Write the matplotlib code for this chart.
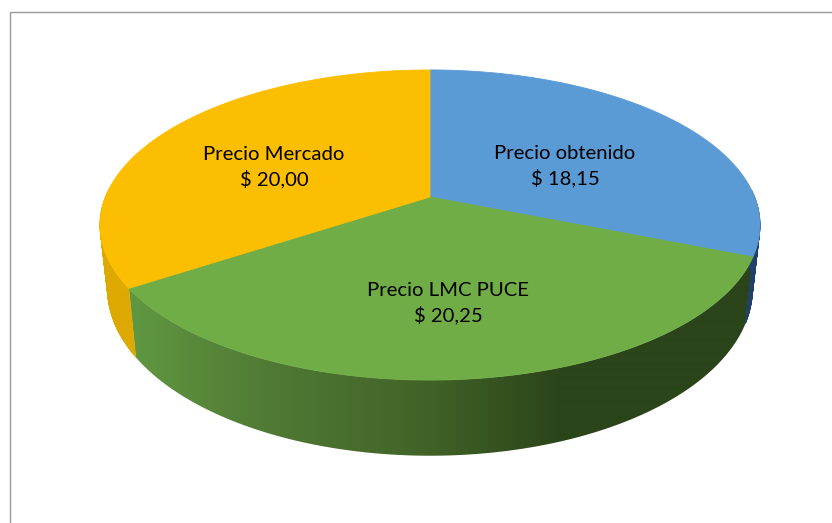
import numpy as np
import matplotlib
matplotlib.use("Agg")
import matplotlib.pyplot as plt
from matplotlib.collections import PolyCollection
from matplotlib.patches import Polygon, Rectangle

categories = ["Precio obtenido", "Precio LMC PUCE", "Precio Mercado"]
values = [18.15, 20.25, 20.00]

top_colors = ["#5B9BD5", "#70AD47", "#FCBE00"]
side_colors = ["#1F4069", None, "#DDA900"]
label_pos = [(565, 166), (448, 303), (274, 167)]

# 绿色侧面的渐变 (像素 x -> RGB)
grad_x = [130, 200, 280, 420, 560, 760]
grad_r = [96, 88, 78, 66, 43, 43]
grad_g = [152, 136, 120, 100, 68, 68]
grad_b = [66, 58, 52, 40, 26, 26]

# 视角参数 (像素)
CX, CY = 430, 197
A, B, K = 324.6, 150, 0.1806
DEPTH = 62
BOTTOM_SCALE = 0.977

plt.rcParams['font.family'] = ['Lato', 'DejaVu Sans']


def rim(theta, bottom=False):
    # theta: 从正上方顺时针的角度
    u = np.sin(theta)
    v = np.cos(theta)
    w = 1 + K * v
    s = BOTTOM_SCALE if bottom else 1.0
    h = DEPTH if bottom else 0
    return CX + s * A * u / w, CY + (h - B * v) / w


def main():
    fig = plt.figure(figsize=(8.32, 5.23), dpi=100)
    ax = fig.add_axes([0, 0, 1, 1])

    edges = 2 * np.pi * np.concatenate([[0], np.cumsum(values)]) / np.sum(values)

    # 侧面
    for i in range(len(values)):
        t = np.linspace(edges[i], edges[i + 1], 240)
        t = t[np.cos(t) < 0.05]  # 后面的部分看不到
        x0, y0 = rim(t)
        x1, y1 = rim(t, bottom=True)
        if side_colors[i] is None:
            # 渐变用一行图像, 再按侧面轮廓裁剪
            points = np.c_[np.r_[x0, x1[::-1]], np.r_[y0, y1[::-1]]]
            xx = np.arange(0, 832)
            row = np.stack([np.interp(xx, grad_x, grad_r),
                            np.interp(xx, grad_x, grad_g),
                            np.interp(xx, grad_x, grad_b)], axis=-1) / 255
            im = ax.imshow(row[np.newaxis, :, :], extent=(0, 832, 523, 0), aspect="auto",
                           interpolation="bilinear")
            outline = Polygon(points, closed=True, transform=ax.transData,
                              facecolor="none", edgecolor="none")
            ax.add_patch(outline)
            im.set_clip_path(outline)
        else:
            quads = []
            for j in range(len(t) - 1):
                quads.append([(x0[j], y0[j]), (x0[j + 1], y0[j + 1]), (x1[j + 1], y1[j + 1]), (x1[j], y1[j])])
            ax.add_collection(PolyCollection(quads, facecolors=side_colors[i],
                                             edgecolors=side_colors[i], linewidths=0.5))

    # 顶面
    for i in range(len(values)):
        t = np.linspace(edges[i], edges[i + 1], 240)
        x, y = rim(t)
        ax.fill(np.r_[CX, x], np.r_[CY, y], color=top_colors[i], linewidth=0.6)

    for i, name in enumerate(categories):
        label = f"{name}\n$ {values[i]:.2f}".replace(".", ",")
        ax.text(label_pos[i][0], label_pos[i][1], label, ha="center", va="center",
                fontsize=14.6, color="black", linespacing=1.42)

    # 外框 (右边和下边在图外)
    ax.add_patch(Rectangle((10, 12), 900, 600, fill=False, edgecolor="#9A9A9A", linewidth=1.0))

    ax.set_xlim(0, 832)
    ax.set_ylim(523, 0)
    ax.axis("off")

    fig.savefig("out.png", dpi=100, facecolor="white")


if __name__ == '__main__':
    main()
